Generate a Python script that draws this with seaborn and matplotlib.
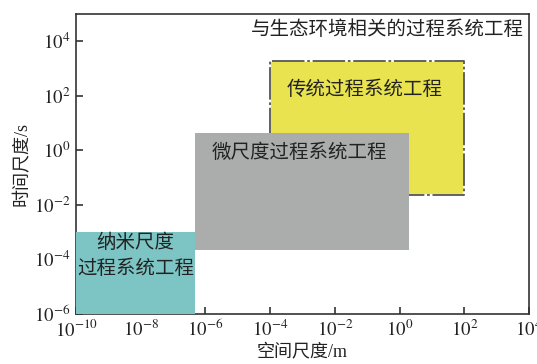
import matplotlib
matplotlib.use("Agg")
import matplotlib.pyplot as plt
from matplotlib.ticker import FixedFormatter
import seaborn as sns
import numpy as np

# Process-systems-engineering scale domains (spatial range in m, temporal range in s)
domains = ["纳米尺度\n过程系统工程", "微尺度过程系统工程", "传统过程系统工程"]
space_low = [1e-10, 4.8e-7, 1e-4]
space_high = [4.8e-7, 2.0, 1e2]
time_low = [1e-6, 2.3e-4, 2.3e-2]
time_high = [1e-3, 4.2, 1.9e3]
fill_colors = ["#7cc5c4", "#abacac", "#e8e34e"]

x_ticks = [1e-10, 1e-8, 1e-6, 1e-4, 1e-2, 1e0, 1e2, 1e4]
y_ticks = [1e-6, 1e-4, 1e-2, 1e0, 1e2, 1e4]
x_tick_labels = [r"$10^{-10}$", r"$10^{-8}$", r"$10^{-6}$", r"$10^{-4}$",
                 r"$10^{-2}$", r"$10^{0}$", r"$10^{2}$", r"$10^{4}$"]
y_tick_labels = [r"$10^{-6}$", r"$10^{-4}$", r"$10^{-2}$", r"$10^{0}$",
                 r"$10^{2}$", r"$10^{4}$"]

sns.set_theme(style="white")
plt.rcParams["font.family"] = ["Noto Sans CJK SC", "DejaVu Sans"]
plt.rcParams["mathtext.fontset"] = "stix"

fig = plt.figure(figsize=(5.37, 3.64), dpi=100)
ax = fig.add_axes([0.1415, 0.1374, 0.8435, 0.8241])
ax.set_xscale("log")
ax.set_yscale("log")
ax.set_xlim(1e-10, 1e4)
ax.set_ylim(1e-6, 1e5)

z_order = [3, 4, 2]
for i in range(len(domains)):
    ax.fill_between([space_low[i], space_high[i]], time_low[i], time_high[i],
                    color=fill_colors[i], linewidth=0, zorder=z_order[i])

# Dash-dot outline of the conventional-scale domain
k = 2
bx = [space_low[k], space_high[k], space_high[k], space_low[k], space_low[k]]
by = [time_low[k], time_low[k], time_high[k], time_high[k], time_low[k]]
ax.plot(bx, by, color="white", lw=1.3, zorder=2.1)
ax.plot(bx, by, color="#555555", lw=1.3, linestyle=(0, (18, 1.5, 1.5, 1.5)), zorder=2.2)

cjk = ["Noto Sans CJK SC", "DejaVu Sans"]
serif_cjk = ["Liberation Serif", "Noto Sans CJK SC"]
txt = dict(ha="center", va="center", fontsize=14, color="#222222", family=cjk, zorder=5)
ax.text(6.9e-9, 1.35e-4, domains[0], linespacing=1.3, **txt)
ax.text(8.3e-4, 0.87, domains[1], **txt)
ax.text(8.5e-2, 1.78e2, domains[2], **txt)
ax.text(0.988, 0.947, "与生态环境相关的过程系统工程", transform=ax.transAxes,
        ha="right", va="center", fontsize=14, color="#222222", family=cjk)

ax.set_xticks(x_ticks)
ax.set_yticks(y_ticks)
ax.xaxis.set_major_formatter(FixedFormatter(x_tick_labels))
ax.yaxis.set_major_formatter(FixedFormatter(y_tick_labels))
ax.minorticks_off()
ax.tick_params(axis="both", which="major", direction="in", length=5, width=1.2,
               color="#333333", labelsize=13.5, labelcolor="#222222", pad=4,
               bottom=True, left=True, top=False, right=False)
for s in ax.spines.values():
    s.set_color("#333333")
    s.set_linewidth(1.2)

ax.set_xlabel("空间尺度/m", fontsize=13, color="#222222", family=serif_cjk, labelpad=2)
ax.set_ylabel("时间尺度/s", fontsize=13, color="#222222", family=serif_cjk, labelpad=2)

fig.savefig("out.png", dpi=100)
